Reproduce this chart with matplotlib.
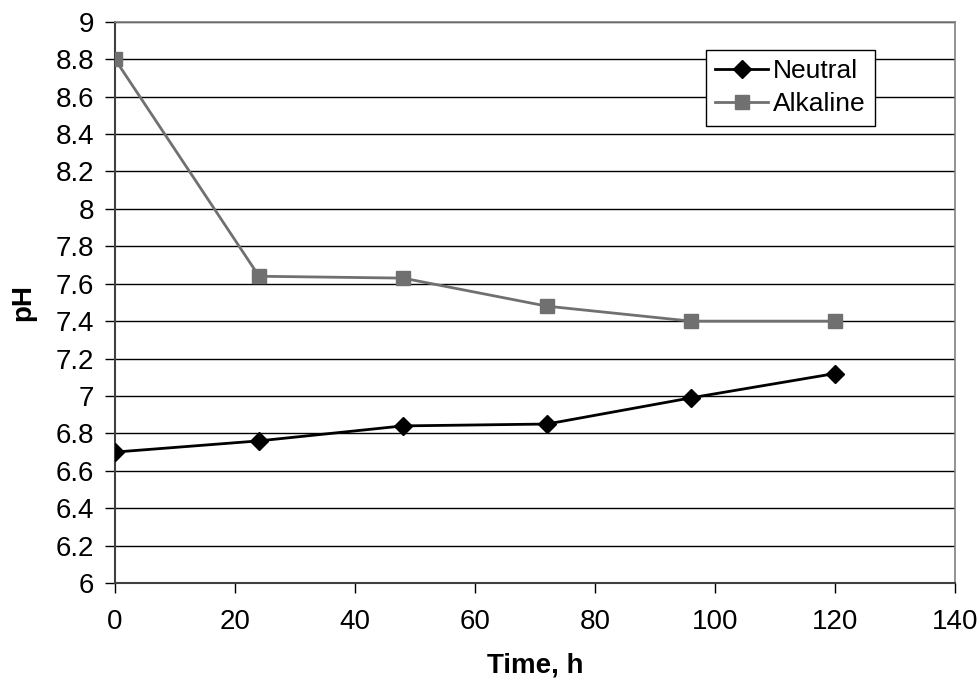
import matplotlib
matplotlib.use("Agg")
import matplotlib.pyplot as plt

plt.rcParams['font.family'] = ['Liberation Sans', 'DejaVu Sans']

time_h = [0, 24, 48, 72, 96, 120]
neutral = [6.70, 6.76, 6.84, 6.85, 6.99, 7.12]
alkaline = [8.80, 7.64, 7.63, 7.48, 7.40, 7.40]
x_ticks = [0, 20, 40, 60, 80, 100, 120, 140]
y_ticks = [6, 6.2, 6.4, 6.6, 6.8, 7, 7.2, 7.4, 7.6, 7.8, 8, 8.2, 8.4, 8.6, 8.8, 9]
y_labels = ['6', '6.2', '6.4', '6.6', '6.8', '7', '7.2', '7.4', '7.6', '7.8', '8', '8.2', '8.4', '8.6', '8.8', '9']

fig = plt.figure(figsize=(9.79, 6.89), dpi=100)
ax = fig.add_axes([0.1175, 0.1538, 0.858, 0.8145])

ax.plot(time_h, neutral, color='black', lw=2, marker='D', markersize=9,
        markerfacecolor='black', markeredgecolor='black', label='Neutral', zorder=3)
ax.plot(time_h, alkaline, color='#707070', lw=2, marker='s', markersize=10,
        markerfacecolor='#707070', markeredgecolor='#707070', label='Alkaline', zorder=3)

ax.set_xlim(0, 140)
ax.set_ylim(6, 9)
ax.set_xticks(x_ticks)
ax.set_yticks(y_ticks)
ax.set_yticklabels(y_labels)
ax.tick_params(axis='both', labelsize=20, direction='out', length=7, width=1, color='black')
ax.tick_params(axis='x', pad=12)
ax.tick_params(axis='y', pad=8)
ax.yaxis.grid(True, color='black', lw=1)
ax.set_axisbelow(True)
for s in ['top', 'right']:
    ax.spines[s].set_color('#808080')
    ax.spines[s].set_linewidth(1.2)
for s in ['left', 'bottom']:
    ax.spines[s].set_color('#404040')
    ax.spines[s].set_linewidth(1.5)

ax.set_xlabel('Time, h', fontsize=20, fontweight='bold', labelpad=12)
ax.set_ylabel('pH', fontsize=20, fontweight='bold', labelpad=14)

leg = ax.legend(loc='upper left', bbox_to_anchor=(0.7036, 0.95), fontsize=19,
                frameon=True, fancybox=False, edgecolor='black', framealpha=1,
                handlelength=2.0, handletextpad=0.2, borderpad=0.35, labelspacing=0.35,
                borderaxespad=0)
leg.get_frame().set_linewidth(1)

fig.savefig('out.png', dpi=100, facecolor='white')
